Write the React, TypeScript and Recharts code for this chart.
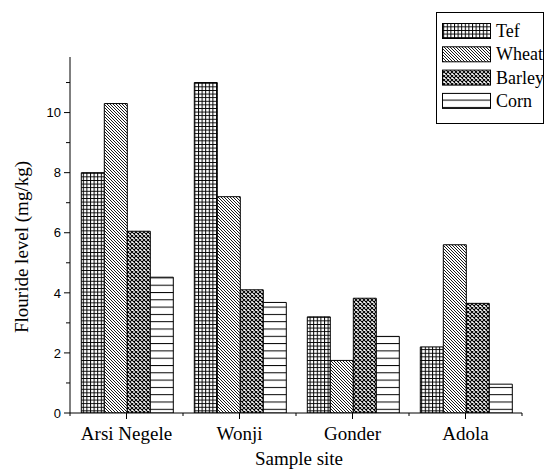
import React from 'react';
import { BarChart, Bar, XAxis, YAxis, Legend } from 'recharts';

const sites = ['Arsi Negele', 'Wonji', 'Gonder', 'Adola'];
const tef = [8.0, 11.0, 3.2, 2.2];
const wheat = [10.3, 7.2, 1.75, 5.6];
const barley = [6.05, 4.1, 3.82, 3.65];
const corn = [4.52, 3.68, 2.55, 0.96];
const yTicks = [0, 1, 2, 3, 4, 5, 6, 7, 8, 9, 10, 11];

const data = sites.map((site, i) => ({
  site,
  tef: tef[i],
  wheat: wheat[i],
  barley: barley[i],
  corn: corn[i]
}));

const series = [
  { key: 'tef', name: 'Tef', fill: 'url(#pat-tef)' },
  { key: 'wheat', name: 'Wheat', fill: 'url(#pat-wheat)' },
  { key: 'barley', name: 'Barley', fill: 'url(#pat-barley)' },
  { key: 'corn', name: 'Corn', fill: 'url(#pat-corn)' }
];

const serif = '"Liberation Serif", "Times New Roman", serif';
const sans = '"Liberation Sans", Arial, sans-serif';

function XTick(props: any) {
  const { x, y, payload, index } = props;
  const band = props.width ? props.width / sites.length : 113;
  const last = index === sites.length - 1;
  return (
    <g>
      <line x1={x} y1={y} x2={x} y2={y + 6} stroke="#000" />
      <line x1={x - band / 2} y1={y} x2={x - band / 2} y2={y + 3} stroke="#000" />
      {last && <line x1={x + band / 2} y1={y} x2={x + band / 2} y2={y + 3} stroke="#000" />}
      <text x={x} y={y + 27} textAnchor="middle" fontFamily={serif} fontSize={19} fill="#000">
        {payload.value}
      </text>
    </g>
  );
}

function YTick(props: any) {
  const { x, y, payload } = props;
  const major = payload.value % 2 === 0;
  return (
    <g>
      <line x1={x - (major ? 6 : 4)} y1={y} x2={x} y2={y} stroke="#000" />
      {major && (
        <text x={x - 9} y={y} dy="0.36em" textAnchor="end" fontFamily={sans} fontSize={13} fill="#000">
          {payload.value}
        </text>
      )}
    </g>
  );
}

function YTitle(props: any) {
  const { y, height } = props.viewBox;
  const cx = 28;
  const cy = y + height / 2 + 12;
  return (
    <text
      x={cx}
      y={cy}
      transform={`rotate(-90 ${cx} ${cy})`}
      textAnchor="middle"
      fontFamily={serif}
      fontSize={19}
      fill="#000"
    >
      Flouride level (mg/kg)
    </text>
  );
}

function XTitle(props: any) {
  const { x, y, width } = props.viewBox;
  return (
    <text x={x + width / 2 + 3} y={y + 52} textAnchor="middle" fontFamily={serif} fontSize={19} fill="#000">
      Sample site
    </text>
  );
}

function LegendBox() {
  return (
    <svg width={108} height={112} style={{ display: 'block', overflow: 'hidden' }}>
      <rect x={0.5} y={0.5} width={107} height={111} fill="#fff" stroke="#000" />
      {series.map((s, i) => {
        const top = 11 + i * 23.3;
        return (
          <g key={s.key}>
            <rect x={6.5} y={top + 0.5} width={48} height={15} fill={s.fill} stroke="#000" />
            <text x={60} y={top + 14} fontFamily={serif} fontSize={18} fill="#000">
              {s.name}
            </text>
          </g>
        );
      })}
    </svg>
  );
}

export default function App() {
  return (
    <div style={{ position: 'absolute', left: 0, top: 0, width: 544, height: 473, background: '#fff' }}>
      <BarChart
        width={544}
        height={473}
        data={data}
        margin={{ top: 57, right: 22, bottom: 0, left: 0 }}
        barCategoryGap="10%"
        barGap={0}
      >
        <defs>
          <pattern id="pat-tef" patternUnits="userSpaceOnUse" width={3.6} height={3.6}>
            <rect width={3.6} height={3.6} fill="#fff" />
            <path d="M0,0.5 H3.6 M0.5,0 V3.6" stroke="#000" strokeWidth={1} />
          </pattern>
          <pattern id="pat-wheat" patternUnits="userSpaceOnUse" width={3} height={3}>
            <rect width={3} height={3} fill="#fff" />
            <path d="M0,0 L3,3 M-1,2 L1,4 M2,-1 L4,1" stroke="#000" strokeWidth={0.9} />
          </pattern>
          <pattern id="pat-barley" patternUnits="userSpaceOnUse" width={4} height={4}>
            <rect width={4} height={4} fill="#fff" />
            <path d="M0,0 L4,4 M4,0 L0,4" stroke="#000" strokeWidth={1.1} />
          </pattern>
          <pattern id="pat-corn" patternUnits="userSpaceOnUse" width={8} height={7.3}>
            <rect width={8} height={7.3} fill="#fff" />
            <path d="M0,0.5 H8" stroke="#000" strokeWidth={1} />
          </pattern>
        </defs>
        <XAxis
          dataKey="site"
          height={60}
          tickSize={0}
          tickMargin={0}
          tickLine={false}
          axisLine={{ stroke: '#000' }}
          tick={<XTick />}
          interval={0}
          label={<XTitle />}
        />
        <YAxis
          width={70}
          domain={[0, 11.85]}
          ticks={yTicks}
          tickSize={0}
          tickMargin={0}
          tickLine={false}
          axisLine={{ stroke: '#000' }}
          tick={<YTick />}
          interval={0}
          allowDataOverflow
          label={<YTitle />}
        />
        <Legend
          layout="vertical"
          align="center"
          verticalAlign="middle"
          content={<LegendBox />}
          wrapperStyle={{ position: 'absolute', left: 436, top: 12, width: 108, height: 112 }}
        />
        {series.map(s => (
          <Bar
            key={s.key}
            dataKey={s.key}
            name={s.name}
            fill={s.fill}
            stroke="#000"
            strokeWidth={1}
            isAnimationActive={false}
          />
        ))}
      </BarChart>
    </div>
  );
}
